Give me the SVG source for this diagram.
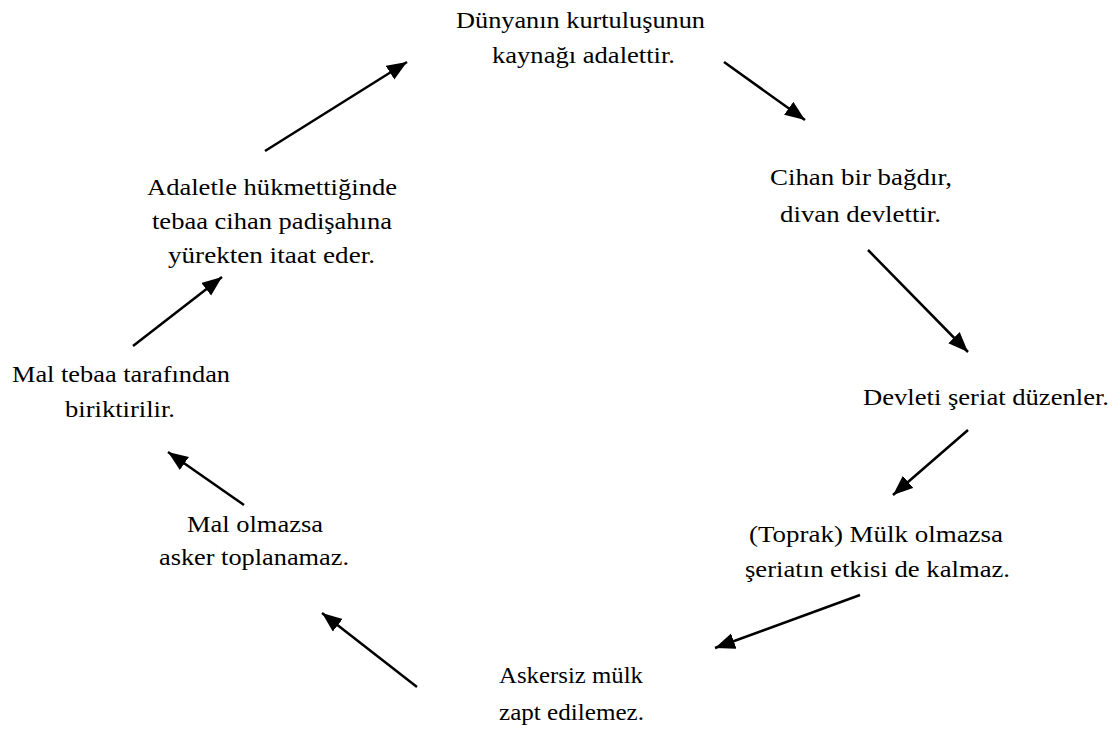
<svg xmlns="http://www.w3.org/2000/svg" width="1120" height="729" viewBox="0 0 1120 729">
<defs>
<style>
.c line{stroke:#000;stroke-width:2.5;marker-end:url(#ah)}
</style>
<marker id="ah" markerUnits="userSpaceOnUse" markerWidth="24" markerHeight="18" refX="20" refY="8" orient="auto" viewBox="0 0 24 18">
<path d="M0,0 L20,8 L0,16 Z" fill="#000"/>
</marker>
</defs>
<rect width="1120" height="729" fill="#fff"/>
<g id="n1"><text font-family="Liberation Serif" font-size="24" x="456" y="28" textLength="249" lengthAdjust="spacingAndGlyphs">Dünyanın kurtuluşunun</text><text font-family="Liberation Serif" font-size="24" x="492" y="63" textLength="183" lengthAdjust="spacingAndGlyphs">kaynağı adalettir.</text></g>
<g id="n2"><text font-family="Liberation Serif" font-size="24" x="770" y="185" textLength="182" lengthAdjust="spacingAndGlyphs">Cihan bir bağdır,</text><text font-family="Liberation Serif" font-size="24" x="780" y="222" textLength="161" lengthAdjust="spacingAndGlyphs">divan devlettir.</text></g>
<g id="n3"><text font-family="Liberation Serif" font-size="24" x="863" y="405" textLength="246" lengthAdjust="spacingAndGlyphs">Devleti şeriat düzenler.</text></g>
<g id="n4"><text font-family="Liberation Serif" font-size="24" x="749" y="542" textLength="254" lengthAdjust="spacingAndGlyphs">(Toprak) Mülk olmazsa</text><text font-family="Liberation Serif" font-size="24" x="745" y="577" textLength="265" lengthAdjust="spacingAndGlyphs">şeriatın etkisi de kalmaz.</text></g>
<g id="n5"><text font-family="Liberation Serif" font-size="24" x="499" y="683" textLength="144" lengthAdjust="spacingAndGlyphs">Askersiz mülk</text><text font-family="Liberation Serif" font-size="24" x="499" y="720" textLength="145" lengthAdjust="spacingAndGlyphs">zapt edilemez.</text></g>
<g id="n6"><text font-family="Liberation Serif" font-size="24" x="187" y="532" textLength="136" lengthAdjust="spacingAndGlyphs">Mal olmazsa</text><text font-family="Liberation Serif" font-size="24" x="159" y="565" textLength="190" lengthAdjust="spacingAndGlyphs">asker toplanamaz.</text></g>
<g id="n7"><text font-family="Liberation Serif" font-size="24" x="12" y="382" textLength="218" lengthAdjust="spacingAndGlyphs">Mal tebaa tarafından</text><text font-family="Liberation Serif" font-size="24" x="65" y="417" textLength="110" lengthAdjust="spacingAndGlyphs">biriktirilir.</text></g>
<g id="n8"><text font-family="Liberation Serif" font-size="24" x="147" y="195" textLength="250" lengthAdjust="spacingAndGlyphs">Adaletle hükmettiğinde</text><text font-family="Liberation Serif" font-size="24" x="152" y="229" textLength="240" lengthAdjust="spacingAndGlyphs">tebaa cihan padişahına</text><text font-family="Liberation Serif" font-size="24" x="168" y="263" textLength="207" lengthAdjust="spacingAndGlyphs">yürekten itaat eder.</text></g>
<g class="c" id="connectors">
<line x1="724" y1="62" x2="805" y2="120"/>
<line x1="868" y1="250" x2="968" y2="352"/>
<line x1="968" y1="430" x2="893" y2="495"/>
<line x1="860" y1="595" x2="715" y2="648"/>
<line x1="417" y1="687" x2="322" y2="613"/>
<line x1="244" y1="505" x2="168" y2="452"/>
<line x1="133" y1="346" x2="222" y2="277"/>
<line x1="265" y1="151" x2="407" y2="62"/>
</g>
</svg>
